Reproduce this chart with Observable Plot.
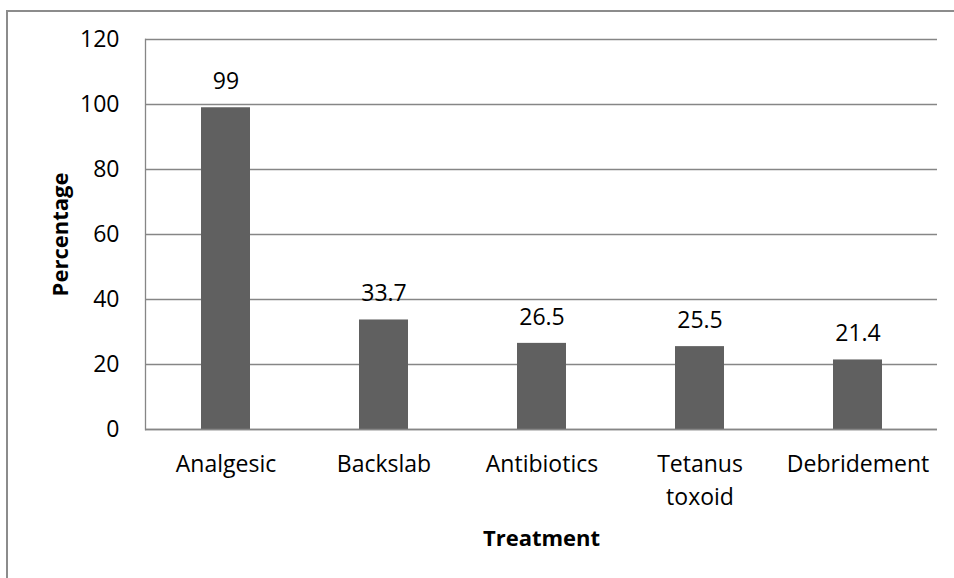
<!DOCTYPE html>
<html>
<head>
<meta charset="utf-8">
<script src="https://cdn.jsdelivr.net/npm/d3@7"></script>
<script src="https://cdn.jsdelivr.net/npm/@observablehq/plot@0.6"></script>
<style>
  body { margin: 0; background: #fff; }
  #wrap { position: relative; width: 954px; height: 578px; overflow: hidden; background: #fff; }
  #border { position: absolute; left: 6px; top: 10px; right: -4px; bottom: -4px;
            border-left: 2px solid #8c8c8c; border-top: 2px solid #8c8c8c; pointer-events: none; }
  #wrap svg { position: absolute; left: 0; top: 0; }
</style>
</head>
<body>
<div id="wrap"><div id="border"></div></div>
<script>
// Treatments given and share of patients receiving each (%)
const categories = ["Analgesic", "Backslab", "Antibiotics", "Tetanus toxoid", "Debridement"];
const percentages = [99, 33.7, 26.5, 25.5, 21.4];
const yTicks = [0, 20, 40, 60, 80, 100, 120];

const data = categories.map((c, i) => ({treatment: c, pct: percentages[i]}));

const font = "Open Sans, sans-serif";
const gray = "#868686";

const chart = Plot.plot({
  width: 954,
  height: 578,
  marginLeft: 145,
  marginRight: 17,
  marginTop: 39,
  marginBottom: 149,
  style: {fontFamily: font, fontSize: "23px", color: "#000", background: "transparent"},
  x: {domain: categories, paddingInner: 0.69, paddingOuter: 0.345, label: null},
  y: {domain: [0, 120], ticks: yTicks, label: null},
  marks: [
    Plot.gridY(yTicks, {stroke: gray, strokeOpacity: 1, strokeWidth: 1.3}),
    Plot.frame({anchor: "left", stroke: gray, strokeWidth: 1.3}),
    Plot.barY(data, {x: "treatment", y: "pct", fill: "#606060"}),
    Plot.ruleY([0], {stroke: gray, strokeWidth: 1.3}),
    Plot.text(data, {x: "treatment", y: "pct", text: d => String(d.pct), dy: -26, fill: "#000"}),
    Plot.axisY({ticks: yTicks, tickSize: 0, tickPadding: 26, label: null}),
    Plot.axisX({tickSize: 0, tickPadding: 19, label: null, lineHeight: 1.43,
                tickFormat: d => d.replace(" ", "\n")}),
    Plot.text(["Percentage"], {frameAnchor: "left", dx: -85, rotate: -90, textAnchor: "middle",
                               lineAnchor: "middle", fontSize: 22, fontWeight: "bold", fill: "#000"}),
    Plot.text(["Treatment"], {frameAnchor: "bottom", dy: 109, textAnchor: "middle",
                              lineAnchor: "middle", fontSize: 22, fontWeight: "bold", fill: "#000"})
  ]
});

document.getElementById("wrap").appendChild(chart);
</script>
</body>
</html>
